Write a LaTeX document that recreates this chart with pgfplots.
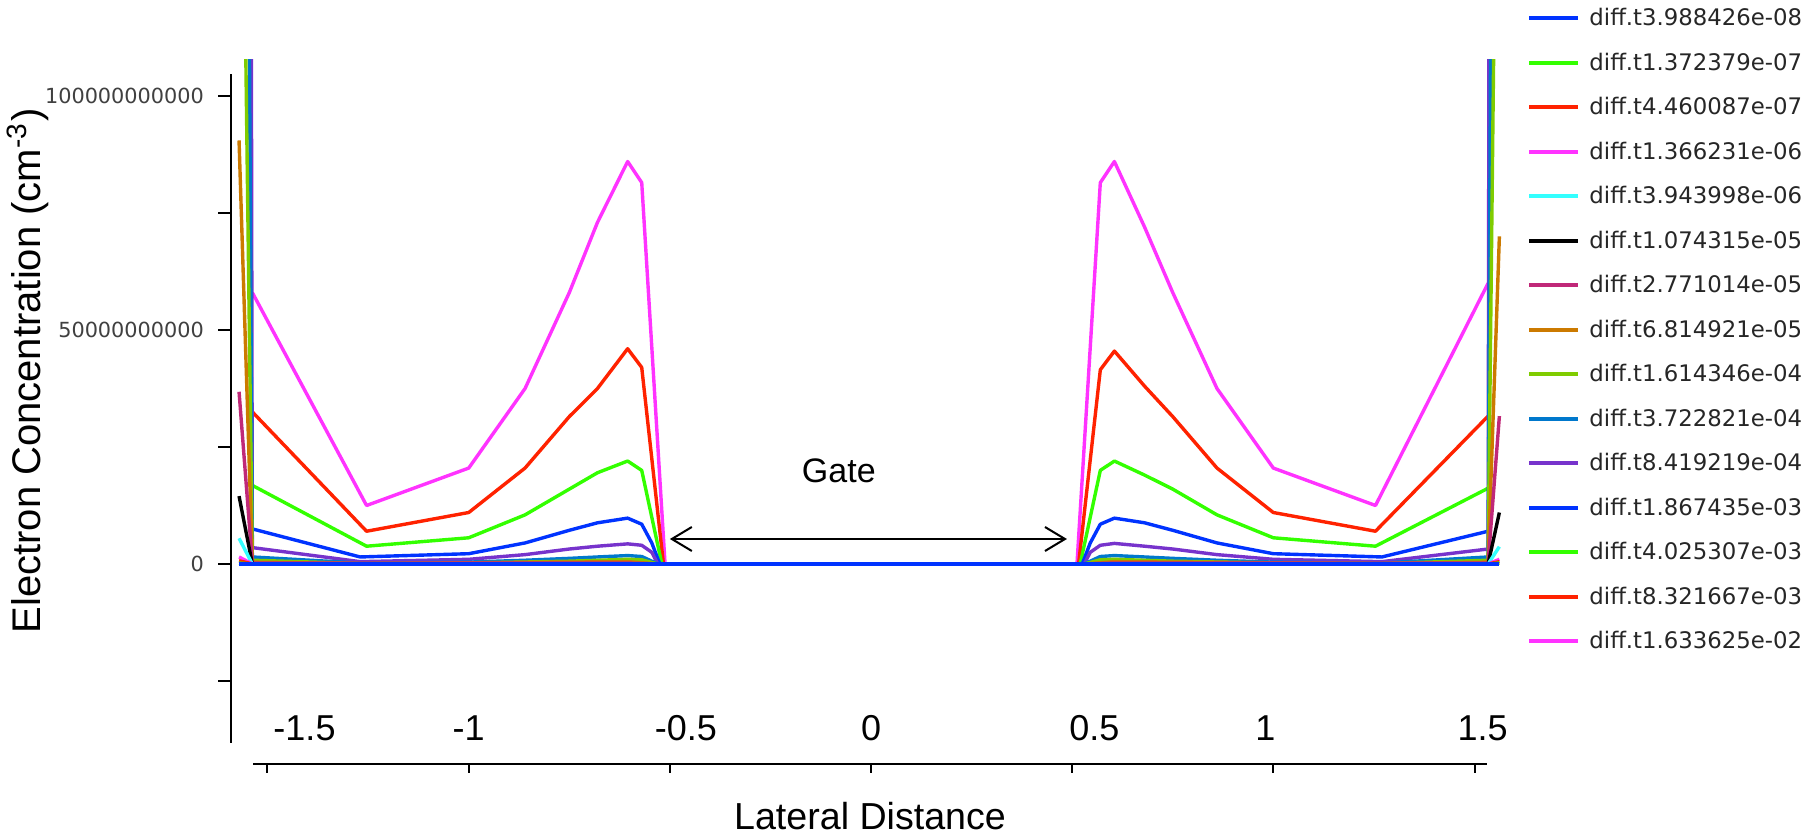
\documentclass[border=0pt]{standalone}
\usepackage{pgfplots}
\pgfplotsset{compat=1.18}
\usetikzlibrary{arrows.meta}
\usepackage{fontspec}
\setmainfont{Liberation Sans}
\newfontfamily\dejavu{DejaVu Sans}
\definecolor{c1}{HTML}{0033FF}
\definecolor{c2}{HTML}{33FF00}
\definecolor{c3}{HTML}{FF2200}
\definecolor{c4}{HTML}{FF33FF}
\definecolor{c5}{HTML}{33FFFF}
\definecolor{c6}{HTML}{000000}
\definecolor{c7}{HTML}{C02878}
\definecolor{c8}{HTML}{CC7A00}
\definecolor{c9}{HTML}{7FCC00}
\definecolor{c10}{HTML}{0078CC}
\definecolor{c11}{HTML}{7733CC}
\begin{document}
\begin{tikzpicture}
\path[use as bounding box] (0,0) rectangle (454.5pt,208pt);
% ---- main data axis ----
\begin{axis}[at={(57.75pt,22.25pt)}, anchor=south west, scale only axis,
  width=318.9pt, height=170.75pt,
  xmin=-1.591, xmax=1.58, ymin=-3.825e10, ymax=1.077e11,
  hide axis, clip=true, reverse legend,
  every axis plot/.append style={line width=0.85pt, line join=round},
  legend cell align=left,
  legend image code/.code={\draw[line width=1.1pt] (0pt,2pt) -- (12.25pt,2pt);},
  legend style={draw=none, fill=none, at={(axis description cs:1.016,1.082)}, anchor=north west,
    inner sep=0pt, outer sep=0pt, row sep=0pt, column sep=2.25pt,
    font=\dejavu\fontsize{5.7pt}{6pt}\selectfont, text=black!85,
    nodes={inner sep=0pt, text height=5.5pt, text depth=5.625pt}}]
% 15: magenta
\addplot[c4] coordinates {(-1.538,5.8e10) (-1.254,1.25e10) (-1.0,2.05e10) (-0.86,3.75e10) (-0.75,5.8e10) (-0.68,7.3e10) (-0.605,8.6e10) (-0.57,8.15e10) (-0.512,0) (0.512,0) (0.57,8.15e10) (0.605,8.6e10) (0.68,7.2e10) (0.75,5.8e10) (0.86,3.75e10) (1.0,2.05e10) (1.254,1.25e10) (1.534,6.0e10)};
\addlegendentry{diff.t1.633625e-02}
% 14: red
\addplot[c3] coordinates {(-1.538,3.25e10) (-1.254,0.7e10) (-1.0,1.1e10) (-0.86,2.05e10) (-0.75,3.15e10) (-0.68,3.75e10) (-0.605,4.6e10) (-0.57,4.2e10) (-0.516,0) (0.516,0) (0.57,4.15e10) (0.605,4.55e10) (0.68,3.8e10) (0.75,3.15e10) (0.86,2.05e10) (1.0,1.1e10) (1.254,0.7e10) (1.534,3.16e10)};
\addlegendentry{diff.t8.321667e-03}
% 13: green
\addplot[c2] coordinates {(-1.538,1.68e10) (-1.254,0.38e10) (-1.0,0.56e10) (-0.86,1.05e10) (-0.75,1.6e10) (-0.68,1.95e10) (-0.605,2.2e10) (-0.57,2.0e10) (-0.52,0) (0.52,0) (0.57,2.0e10) (0.605,2.2e10) (0.68,1.9e10) (0.75,1.6e10) (0.86,1.05e10) (1.0,0.56e10) (1.254,0.38e10) (1.534,1.62e10)};
\addlegendentry{diff.t4.025307e-03}
% 12: blue
\addplot[c1] coordinates {(-1.538,0.75e10) (-1.27,0.15e10) (-1.0,0.22e10) (-0.86,0.45e10) (-0.75,0.72e10) (-0.68,0.88e10) (-0.605,0.98e10) (-0.57,0.85e10) (-0.545,0.45e10) (-0.525,0) (0.525,0) (0.545,0.45e10) (0.57,0.85e10) (0.605,0.98e10) (0.68,0.88e10) (0.75,0.72e10) (0.86,0.45e10) (1.0,0.22e10) (1.27,0.15e10) (1.534,0.7e10)};
\addlegendentry{diff.t1.867435e-03}
% 11: purple
\addplot[c11] coordinates {(-1.571,1.5e12) (-1.538,0.35e10) (-1.27,0.05e10) (-1.0,0.1e10) (-0.86,0.2e10) (-0.75,0.32e10) (-0.68,0.38e10) (-0.605,0.43e10) (-0.57,0.4e10) (-0.545,0.25e10) (-0.53,0) (0.53,0) (0.545,0.25e10) (0.57,0.4e10) (0.605,0.44e10) (0.68,0.38e10) (0.75,0.32e10) (0.86,0.2e10) (1.0,0.1e10) (1.27,0.05e10) (1.534,0.32e10) (1.562,1.5e12)};
\addlegendentry{diff.t8.419219e-04}
% 10: steel blue
\addplot[c10] coordinates {(-1.571,5e11) (-1.538,0.15e10) (-1.27,0.02e10) (-1.0,0.04e10) (-0.86,0.08e10) (-0.75,0.12e10) (-0.68,0.15e10) (-0.605,0.18e10) (-0.57,0.16e10) (-0.53,0) (0.53,0) (0.57,0.16e10) (0.605,0.18e10) (0.68,0.15e10) (0.75,0.12e10) (0.86,0.08e10) (1.0,0.04e10) (1.27,0.02e10) (1.534,0.15e10) (1.562,5e11)};
\addlegendentry{diff.t3.722821e-04}
% 9: yellow green
\addplot[c9] coordinates {(-1.571,2.2e11) (-1.538,0.08e10) (-1.27,0.01e10) (-1.0,0.02e10) (-0.75,0.06e10) (-0.605,0.1e10) (-0.57,0.09e10) (-0.53,0) (0.53,0) (0.57,0.09e10) (0.605,0.1e10) (0.75,0.06e10) (1.0,0.02e10) (1.27,0.01e10) (1.534,0.08e10) (1.562,2.2e11)};
\addlegendentry{diff.t1.614346e-04}
% 8: orange
\addplot[c8] coordinates {(-1.571,9.05e10) (-1.538,0.04e10) (-1.27,0.01e10) (-0.605,0.05e10) (-0.53,0) (0.53,0) (0.605,0.05e10) (1.27,0.01e10) (1.534,0.04e10) (1.562,7.0e10)};
\addlegendentry{diff.t6.814921e-05}
% 7: dark pink
\addplot[c7] coordinates {(-1.571,3.68e10) (-1.538,0.02e10) (-0.605,0.02e10) (-0.53,0) (0.53,0) (0.605,0.02e10) (1.534,0.02e10) (1.562,3.16e10)};
\addlegendentry{diff.t2.771014e-05}
% 6: black
\addplot[c6] coordinates {(-1.571,1.45e10) (-1.538,0) (1.534,0) (1.562,1.1e10)};
\addlegendentry{diff.t1.074315e-05}
% 5: cyan
\addplot[c5] coordinates {(-1.571,0.55e10) (-1.538,0) (1.534,0) (1.562,0.37e10)};
\addlegendentry{diff.t3.943998e-06}
% 4: magenta
\addplot[c4] coordinates {(-1.571,0.15e10) (-1.538,0) (1.534,0) (1.562,0.1e10)};
\addlegendentry{diff.t1.366231e-06}
% 3: red
\addplot[c3] coordinates {(-1.571,0.07e10) (-1.538,0) (1.534,0) (1.562,0.05e10)};
\addlegendentry{diff.t4.460087e-07}
% 2: green
\addplot[c2] coordinates {(-1.571,0.02e10) (-1.538,0) (1.534,0) (1.562,0.02e10)};
\addlegendentry{diff.t1.372379e-07}
% 1: blue
\addplot[c1] coordinates {(-1.571,0) (-1.538,0) (1.534,0) (1.562,0)};
\addlegendentry{diff.t3.988426e-08}
% gate annotation
\draw[line width=0.5pt, {Straight Barb[length=5pt,width=6pt]}-{Straight Barb[length=5pt,width=6pt]}] (axis cs:-0.5,0.534e10) -- (axis cs:0.487,0.534e10);
\node[font=\fontsize{8.5pt}{10pt}\selectfont] at (axis cs:-0.08,2.0e10) {Gate};
\end{axis}
% ---- y axis (offset) ----
\begin{axis}[at={(57.75pt,22.25pt)}, anchor=south west, scale only axis,
  width=20pt, height=167.25pt, xmin=0, xmax=1, ymin=-3.825e10, ymax=1.047e11,
  axis x line=none, axis y line=left, y axis line style={-, line width=0.45pt},
  ytick={-2.5e10,0,2.5e10,5e10,7.5e10,1e11},
  yticklabels={,0,,50000000000,,100000000000}, scaled y ticks=false,
  tick align=outside, major tick length=3.25pt, ytick style={line width=0.5pt, black},
  yticklabel style={font=\dejavu\fontsize{5.2pt}{6pt}\selectfont, text=black!75}]
\end{axis}
% ---- x axis line with ticks ----
\begin{axis}[at={(63.25pt,17pt)}, anchor=south west, scale only axis,
  width=308.5pt, height=10pt, xmin=-1.536, xmax=1.531, ymin=0, ymax=1,
  axis y line=none, axis x line=bottom, x axis line style={-, line width=0.45pt},
  xtick={-1.5,-1,-0.5,0,0.5,1,1.5}, xticklabels={},
  tick align=outside, major tick length=2.25pt, xtick style={line width=0.5pt, black}]
\end{axis}
% ---- x tick labels ----
\begin{axis}[at={(63.25pt,17pt)}, anchor=south west, scale only axis,
  width=308.5pt, height=10pt, xmin=-1.536, xmax=1.531, ymin=0, ymax=1,
  axis y line=none, axis x line=bottom, x axis line style={draw=none},
  xtick={-1.408,-1,-0.46,0,0.555,0.98,1.52},
  xticklabels={-1.5,-1,-0.5,0,0.5,1,1.5}, xtick style={draw=none},
  xticklabel style={anchor=center, yshift=11pt, font=\fontsize{9pt}{10pt}\selectfont}]
\end{axis}
\node[font=\fontsize{9.4pt}{11pt}\selectfont] at (217.5pt,4pt) {Lateral Distance};
\node[rotate=90, font=\fontsize{10pt}{12pt}\selectfont] at (7pt,115.25pt) {Electron Concentration (cm\textsuperscript{-3})};
\end{tikzpicture}
\end{document}
